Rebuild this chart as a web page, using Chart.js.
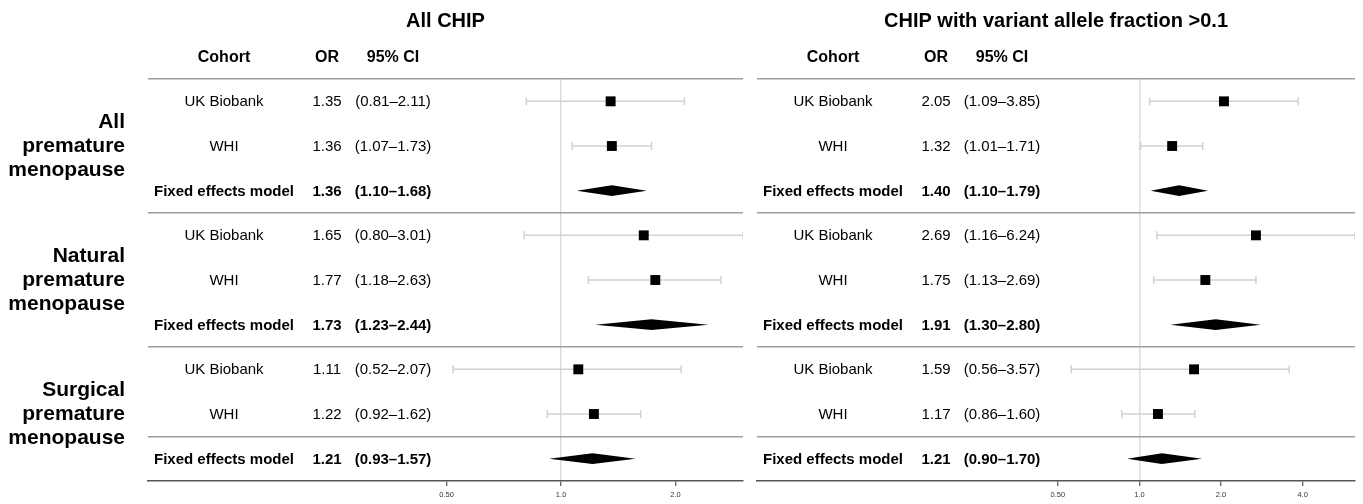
<!DOCTYPE html>
<html>
<head>
<meta charset="utf-8">
<script src="https://cdn.jsdelivr.net/npm/chart.js@4"></script>
<style>
  body { margin: 0; background: #fff; }
  #wrap { position: relative; width: 1363px; height: 504px; }
  canvas { position: absolute; top: 0; }
  #allChip { left: 0; }
  #vafChip { left: 750px; }
</style>
</head>
<body>
<div id="wrap">
  <canvas id="allChip" width="750" height="504"></canvas>
  <canvas id="vafChip" width="613" height="504"></canvas>
</div>
<script>
const subgroups = [
  ["All", "premature", "menopause"],
  ["Natural", "premature", "menopause"],
  ["Surgical", "premature", "menopause"]
];
const cohorts = ["UK Biobank", "WHI", "Fixed effects model",
                 "UK Biobank", "WHI", "Fixed effects model",
                 "UK Biobank", "WHI", "Fixed effects model"];
const pooled = [false, false, true, false, false, true, false, false, true];

// All CHIP
const orAll = [1.35, 1.36, 1.36, 1.65, 1.77, 1.73, 1.11, 1.22, 1.21];
const loAll = [0.81, 1.07, 1.10, 0.80, 1.18, 1.23, 0.52, 0.92, 0.93];
const hiAll = [2.11, 1.73, 1.68, 3.01, 2.63, 2.44, 2.07, 1.62, 1.57];

// CHIP with VAF > 0.1
const orVaf = [2.05, 1.32, 1.40, 2.69, 1.75, 1.91, 1.59, 1.17, 1.21];
const loVaf = [1.09, 1.01, 1.10, 1.16, 1.13, 1.30, 0.56, 0.86, 0.90];
const hiVaf = [3.85, 1.71, 1.79, 6.24, 2.69, 2.80, 3.57, 1.60, 1.70];

const ticksAll = [0.5, 1, 2];
const ticksVaf = [0.5, 1, 2, 4];
const tickText = { 0.5: "0.50", 1: "1.0", 2: "2.0", 4: "4.0" };

const FONT = "'Liberation Sans', Arial, Helvetica, sans-serif";

function forestSets(or, lo, hi) {
  const sets = [];
  or.forEach((v, i) => {
    if (pooled[i]) {
      const h = 0.12;
      sets.push({
        type: 'line',
        data: [{x: lo[i], y: i}, {x: v, y: i - h}, {x: hi[i], y: i}, {x: v, y: i + h}, {x: lo[i], y: i}],
        borderWidth: 0,
        borderColor: '#000',
        backgroundColor: '#000',
        fill: 'shape',
        pointRadius: 0,
        tension: 0,
        order: 0
      });
    } else {
      sets.push({
        type: 'line',
        data: [{x: lo[i], y: i}, {x: hi[i], y: i}],
        borderColor: '#d2d2d2',
        borderWidth: 1.5,
        pointStyle: 'line',
        pointRotation: 90,
        pointRadius: 4,
        pointBorderColor: '#d2d2d2',
        pointBorderWidth: 1.5,
        fill: false,
        order: 1
      });
      sets.push({
        type: 'scatter',
        data: [{x: v, y: i}],
        pointStyle: 'rect',
        pointRadius: 7,
        pointBackgroundColor: '#000',
        pointBorderWidth: 0,
        order: 0
      });
    }
  });
  return sets;
}

function tableText(title, or, lo, hi, withGroups) {
  return {
    id: 'tableText',
    afterDraw(chart) {
      const {ctx, chartArea} = chart;
      const ys = chart.scales.y;
      const left = chartArea.left;
      ctx.save();
      ctx.fillStyle = '#000';
      ctx.textBaseline = 'middle';
      ctx.textAlign = 'center';
      ctx.font = 'bold 20px ' + FONT;
      ctx.fillText(title, (chartArea.left + chartArea.right) / 2, 21);
      ctx.font = 'bold 16px ' + FONT;
      ctx.fillText('Cohort', left + 76, 58);
      ctx.fillText('OR', left + 179, 58);
      ctx.fillText('95% CI', left + 245, 58);
      cohorts.forEach((c, i) => {
        const yy = ys.getPixelForValue(i) + 1;
        ctx.font = (pooled[i] ? 'bold ' : '') + '15px ' + FONT;
        ctx.fillText(c, left + 76, yy);
        ctx.fillText(or[i].toFixed(2), left + 179, yy);
        ctx.fillText('(' + lo[i].toFixed(2) + '\u2013' + hi[i].toFixed(2) + ')', left + 245, yy);
      });
      if (withGroups) {
        ctx.textAlign = 'right';
        ctx.font = 'bold 21px ' + FONT;
        subgroups.forEach((g, k) => {
          const mid = ys.getPixelForValue(k * 3 + 1);
          g.forEach((word, j) => ctx.fillText(word, 125, mid + (j - 1) * 24));
        });
      }
      ctx.restore();
    }
  };
}

function forestChart(id, or, lo, hi, ticks, xmin, xmax, pad, title, withGroups) {
  return new Chart(id, {
    type: 'scatter',
    data: { datasets: forestSets(or, lo, hi) },
    plugins: [tableText(title, or, lo, hi, withGroups)],
    options: {
      responsive: false,
      animation: false,
      events: [],
      layout: { padding: { top: 79, bottom: 0, left: pad[0], right: pad[1] } },
      plugins: { legend: { display: false }, tooltip: { enabled: false } },
      scales: {
        x: {
          type: 'logarithmic',
          min: xmin,
          max: xmax,
          afterBuildTicks: axis => { axis.ticks = ticks.map(v => ({ value: v })); },
          afterFit: axis => { axis.height = 23; },
          ticks: {
            autoSkip: false,
            maxRotation: 0,
            padding: 4,
            color: '#333',
            font: { size: 7.5, family: FONT },
            callback: v => tickText[v]
          },
          grid: {
            color: c => (c.tick && c.tick.value === 1) ? '#dcdcdc' : 'rgba(0,0,0,0)',
            lineWidth: 1.5,
            tickColor: '#333',
            tickLength: 5,
            tickWidth: 1
          },
          border: { color: '#555', width: 1.5 }
        },
        y: {
          type: 'linear',
          reverse: true,
          min: -0.5,
          max: 8.5,
          afterBuildTicks: axis => { axis.ticks = [-0.5, 2.5, 5.5, 7.5].map(v => ({ value: v })); },
          afterFit: axis => { axis.width = 0; },
          ticks: { display: false },
          grid: { color: '#9e9e9e', lineWidth: 1.5, drawTicks: false },
          border: { display: false }
        }
      }
    }
  });
}

forestChart('allChip', orAll, loAll, hiAll, ticksAll, 0.0819, 3.01, [148, 4], 'All CHIP', true);
forestChart('vafChip', orVaf, loVaf, hiVaf, ticksVaf, 0.0388, 6.24, [6, 8], 'CHIP with variant allele fraction >0.1', false);
</script>
</body>
</html>
